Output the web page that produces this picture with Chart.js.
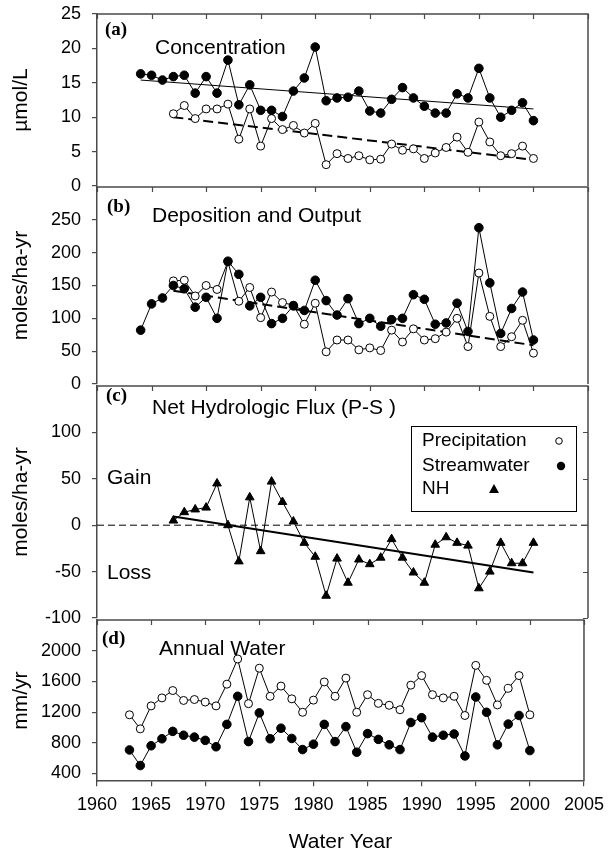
<!DOCTYPE html>
<html>
<head>
<meta charset="utf-8">
<script src="https://cdn.jsdelivr.net/npm/chart.js@4.4.1/dist/chart.umd.min.js"></script>
<style>
  html, body { margin: 0; padding: 0; background: #fff; }
  #wrap { position: relative; width: 612px; height: 861px; background: #fff; overflow: hidden; }
  #wrap canvas { position: absolute; left: 0; }
</style>
</head>
<body>
<div id="wrap">
  <canvas id="panel-a" width="612" height="200" style="top:0px"></canvas>
  <canvas id="panel-b" width="612" height="225" style="top:173px"></canvas>
  <canvas id="panel-c" width="612" height="260" style="top:372px"></canvas>
  <canvas id="panel-d" width="612" height="255" style="top:606px"></canvas>
</div>
<script>
// Annual NH4 record, water years. Series start years are given with each series.
const X_TICKS = [1960, 1965, 1970, 1975, 1980, 1985, 1990, 1995, 2000, 2005];

// (a) concentration, umol/L
const CONC_STREAM_START = 1964;
const CONC_STREAM = [16.3, 16.1, 15.4, 15.9, 16.1, 13.5, 15.9, 13.5, 18.3, 11.8, 14.7, 11.0, 11.0, 10.1, 13.8, 15.7, 20.2, 12.4, 12.8, 12.9,
  13.8, 10.9, 10.6, 12.6, 14.3, 12.8, 11.6, 10.6, 10.6, 13.4, 12.8, 17.1, 12.8, 10.0, 11.0, 12.1, 9.5];
const CONC_PRECIP_START = 1967;
const CONC_PRECIP = [10.5, 11.7, 9.8, 11.2, 11.2, 11.9, 6.8, 11.2, 5.8, 9.8, 8.2, 8.8, 7.7, 9.1, 3.1, 4.7, 4.0, 4.4, 3.8, 3.9,
  6.1, 5.2, 5.4, 4.0, 4.8, 5.6, 7.1, 4.9, 9.3, 6.4, 4.4, 4.7, 5.8, 4.0];
const CONC_STREAM_TREND = [[1964, 15.4], [2000, 11.2]];
const CONC_PRECIP_TREND = [[1967, 10.0], [2000, 3.8]];
const TICKS_A = [0, 5, 10, 15, 20, 25];

// (b) deposition and output, moles/ha-yr
const DEP_STREAM_START = 1964;
const DEP_STREAM = [82, 122, 131, 150, 145, 117, 132, 100, 187, 167, 119, 132, 92, 100, 119, 112, 158, 127, 105, 130,
  92, 100, 88, 98, 100, 136, 129, 91, 93, 123, 80, 238, 154, 77, 115, 140, 67];
const DEP_PRECIP_START = 1967;
const DEP_PRECIP = [157, 158, 134, 150, 144, 186, 126, 147, 101, 140, 124, 120, 91, 123, 49, 67, 67, 52, 55, 51,
  82, 64, 84, 67, 69, 79, 100, 57, 169, 103, 57, 72, 97, 47];
const DEP_PRECIP_TREND = [[1967, 142], [2000, 59]];
const TICKS_B = [0, 50, 100, 150, 200, 250];

// (c) net hydrologic flux (P-S), moles/ha-yr
const NET_START = 1967;
const NET_FLUX = [5, 14, 17, 19, 45, 0, -39, 30, -28, 47, 25, 4, -19, -34, -76, -36, -62, -37, -42, -35,
  -15, -35, -51, -62, -21, -13, -19, -22, -68, -50, -19, -41, -41, -19];
const NET_TREND = [[1967, 9.3], [2000, -51]];
const ZERO_LINE = [[1960, 0], [2005, 0]];
const TICKS_C = [-100, -50, 0, 50, 100];

// (d) annual water, mm/yr
const WATER_START = 1963;
const WATER_PRECIP = [1165, 982, 1281, 1385, 1481, 1352, 1364, 1331, 1281, 1564, 1892, 1310, 1772, 1406, 1539, 1373, 1198, 1356, 1593,
  1406, 1643, 1198, 1427, 1314, 1289, 1231, 1551, 1676, 1427, 1385, 1406, 1156, 1809, 1614, 1294, 1510, 1676, 1165];
const WATER_STREAM = [707, 504, 762, 853, 949, 899, 874, 832, 749, 1040, 1406, 816, 1190, 853, 990, 857, 712, 782, 1040,
  816, 1011, 678, 920, 845, 774, 712, 1065, 1127, 874, 899, 915, 629, 1397, 1198, 774, 1044, 1156, 699];
const TICKS_D = [400, 800, 1200, 1600, 2000];

const SANS = '"Liberation Sans", Arial, Helvetica, sans-serif';
const SERIF = '"Liberation Serif", "Times New Roman", serif';
const AXIS_COLOR = "#4a4a4a";

function series(start, values) {
  return values.map(function (v, i) { return { x: start + i, y: v }; });
}
function pairs(list) {
  return list.map(function (p) { return { x: p[0], y: p[1] }; });
}

function openDots(data) {
  return { data: data, borderColor: "#000", borderWidth: 1, pointRadius: 4, pointBorderWidth: 1,
    pointBackgroundColor: "#fff", pointBorderColor: "#000", pointStyle: "circle" };
}
function filledDots(data) {
  return { data: data, borderColor: "#000", borderWidth: 1, pointRadius: 4.3, pointBorderWidth: 1,
    pointBackgroundColor: "#000", pointBorderColor: "#000", pointStyle: "circle" };
}
function triangles(data) {
  return { data: data, borderColor: "#000", borderWidth: 1, pointRadius: 5, pointBorderWidth: 1,
    pointBackgroundColor: "#000", pointBorderColor: "#000", pointStyle: "triangle" };
}
function trend(data, width, dash) {
  return { data: data, borderColor: "#000", borderWidth: width, borderDash: dash || [], pointRadius: 0 };
}

// frame, inner ticks, panel captions and the key box
const panelFrame = {
  id: "panelFrame",
  afterDraw: function (chart, args, o) {
    var ctx = chart.ctx;
    var a = chart.chartArea;
    var xs = chart.scales.x;
    var ys = chart.scales.y;
    ctx.save();
    ctx.strokeStyle = AXIS_COLOR;
    ctx.lineWidth = 1.5;
    ctx.beginPath();
    ctx.moveTo(a.left, a.top);
    ctx.lineTo(a.right, a.top);
    ctx.lineTo(a.right, a.bottom);
    ctx.stroke();

    ctx.lineWidth = 1.2;
    ctx.beginPath();
    X_TICKS.forEach(function (v) {
      var px = Math.round(xs.getPixelForValue(v)) + 0.5;
      ctx.moveTo(px, a.top);
      ctx.lineTo(px, a.top + 5);
    });
    if (o.rightTicks) {
      ys.ticks.forEach(function (t) {
        var py = Math.round(ys.getPixelForValue(t.value)) + 0.5;
        ctx.moveTo(a.right, py);
        ctx.lineTo(a.right - 5, py);
      });
    }
    ctx.stroke();

    ctx.fillStyle = "#000";
    ctx.textBaseline = "middle";
    ctx.textAlign = "left";
    (o.labels || []).forEach(function (l) {
      ctx.font = l.font;
      ctx.fillText(l.text, a.left + l.dx, a.top + l.dy);
    });

    if (o.key) {
      var k = o.key;
      var bx = a.left + k.dx, by = a.top + k.dy;
      ctx.fillStyle = "#fff";
      ctx.fillRect(bx, by, k.w, k.h);
      ctx.strokeStyle = "#000";
      ctx.lineWidth = 1;
      ctx.strokeRect(bx + 0.5, by + 0.5, k.w, k.h);
      ctx.fillStyle = "#000";
      ctx.font = "19px " + SANS;
      k.rows.forEach(function (r) {
        ctx.fillText(r.text, bx + 11, by + r.dy);
        var mx = bx + r.mx, my = by + r.dy;
        ctx.beginPath();
        if (r.marker === "open") {
          ctx.arc(mx, my, 3.3, 0, Math.PI * 2);
          ctx.fillStyle = "#fff";
          ctx.fill();
          ctx.lineWidth = 1;
          ctx.stroke();
        } else if (r.marker === "filled") {
          ctx.arc(mx, my, 4.2, 0, Math.PI * 2);
          ctx.fillStyle = "#000";
          ctx.fill();
        } else {
          ctx.moveTo(mx, my - 5);
          ctx.lineTo(mx + 5, my + 4);
          ctx.lineTo(mx - 5, my + 4);
          ctx.closePath();
          ctx.fillStyle = "#000";
          ctx.fill();
        }
        ctx.fillStyle = "#000";
      });
    }
    ctx.restore();
  },
};

function yAxis(min, max, ticks, title) {
  return {
    type: "linear",
    position: "left",
    min: min,
    max: max,
    afterBuildTicks: function (s) { s.ticks = ticks.map(function (v) { return { value: v }; }); },
    afterFit: function (s) {
      s.width = 97;
      // let the end labels hang into the layout padding instead of shrinking the plot
      s.paddingTop = 0;
      s.paddingBottom = 0;
    },
    border: { display: true, color: AXIS_COLOR, width: 1.5 },
    grid: { display: true, drawOnChartArea: false, drawTicks: true, tickLength: 5, color: AXIS_COLOR, lineWidth: 1.2 },
    ticks: { color: "#000", padding: 11, font: { family: SANS, size: 18 }, callback: function (v) { return String(v); } },
    title: { display: true, text: title, color: "#000", font: { family: SANS, size: 21 }, padding: { top: 9, bottom: 0 } },
  };
}

function hiddenX() {
  return { type: "linear", min: 1960, max: 2005, display: false };
}

function makePanel(id, datasets, y, x, frame, padBottom) {
  return new Chart(document.getElementById(id), {
    type: "line",
    data: { datasets: datasets },
    options: {
      responsive: false,
      animation: false,
      devicePixelRatio: 1,
      layout: { padding: { top: 14, bottom: padBottom, left: 0, right: 24 } },
      elements: { line: { tension: 0 } },
      plugins: { legend: { display: false }, tooltip: { enabled: false }, panelFrame: frame },
      scales: { x: x, y: y },
    },
    plugins: [panelFrame],
  });
}

var capFont = "bold 19px " + SERIF;
var headFont = "21px " + SANS;

makePanel("panel-a", [
  filledDots(series(CONC_STREAM_START, CONC_STREAM)),
  openDots(series(CONC_PRECIP_START, CONC_PRECIP)),
  trend(pairs(CONC_STREAM_TREND), 1),
  trend(pairs(CONC_PRECIP_TREND), 2, [10, 5]),
], yAxis(0, 25, TICKS_A, "\u00b5mol/L"), hiddenX(), {
  labels: [
    { text: "(a)", dx: 8, dy: 16, font: capFont },
    { text: "Concentration", dx: 58, dy: 34, font: headFont },
  ],
}, 14);

makePanel("panel-b", [
  filledDots(series(DEP_STREAM_START, DEP_STREAM)),
  openDots(series(DEP_PRECIP_START, DEP_PRECIP)),
  trend(pairs(DEP_PRECIP_TREND), 2, [10, 5]),
], yAxis(0, 300, TICKS_B, "moles/ha-yr"), hiddenX(), {
  labels: [
    { text: "(b)", dx: 10, dy: 20, font: capFont },
    { text: "Deposition and Output", dx: 55, dy: 29, font: headFont },
  ],
}, 14);

makePanel("panel-c", [
  triangles(series(NET_START, NET_FLUX)),
  trend(pairs(NET_TREND), 2),
  trend(pairs(ZERO_LINE), 1, [7, 4]),
], yAxis(-100, 150, TICKS_C, "moles/ha-yr"), hiddenX(), {
  rightTicks: true,
  labels: [
    { text: "(c)", dx: 9, dy: 10, font: capFont },
    { text: "Net Hydrologic Flux (P-S )", dx: 55, dy: 22, font: headFont },
    { text: "Gain", dx: 10, dy: 92, font: headFont },
    { text: "Loss", dx: 10, dy: 187, font: headFont },
  ],
  key: {
    dx: 314, dy: 40, w: 165, h: 85,
    rows: [
      { text: "Precipitation", dy: 15, mx: 148, marker: "open" },
      { text: "Streamwater", dy: 40, mx: 150, marker: "filled" },
      { text: "NH", dy: 63, mx: 83, marker: "tri" },
    ],
  },
}, 14);

makePanel("panel-d", [
  filledDots(series(WATER_START, WATER_STREAM)),
  openDots(series(WATER_START, WATER_PRECIP)),
], yAxis(300, 2400, TICKS_D, "mm/yr"), {
  type: "linear",
  min: 1960,
  max: 2005,
  position: "bottom",
  afterBuildTicks: function (s) { s.ticks = X_TICKS.map(function (v) { return { value: v }; }); },
  border: { display: true, color: AXIS_COLOR, width: 1.5 },
  grid: { display: true, drawOnChartArea: false, drawTicks: true, tickLength: 5, color: AXIS_COLOR, lineWidth: 1.2 },
  ticks: { color: "#000", padding: 8, maxRotation: 0, font: { family: SANS, size: 18 }, callback: function (v) { return String(v); } },
  title: { display: true, text: "Water Year", color: "#000", font: { family: SANS, size: 21 }, padding: { top: 6, bottom: 0 } },
}, {
  labels: [
    { text: "(d)", dx: 5, dy: 19, font: capFont },
    { text: "Annual Water", dx: 62, dy: 29, font: headFont },
  ],
}, 6);
</script>
</body>
</html>
